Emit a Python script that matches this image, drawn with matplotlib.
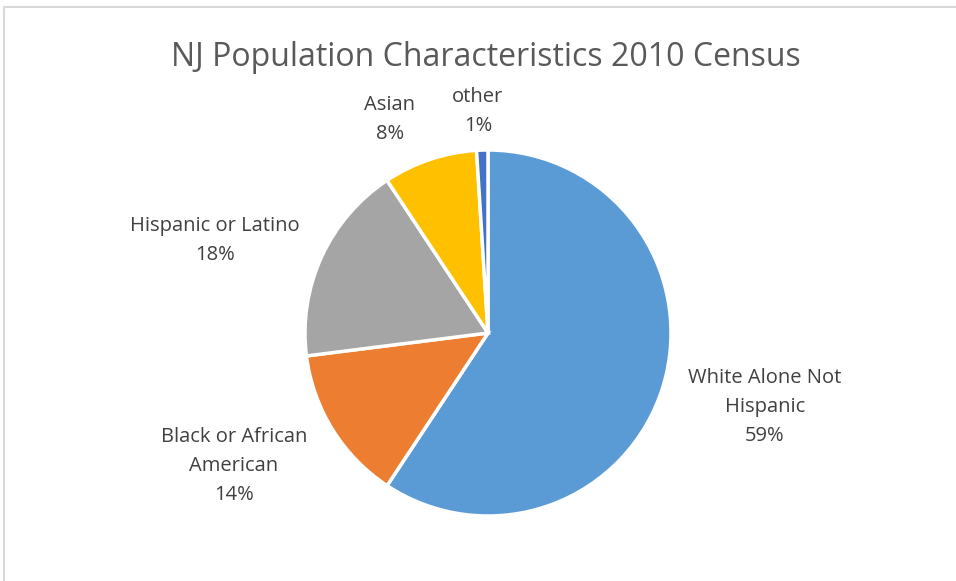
import matplotlib
matplotlib.use("Agg")
import matplotlib.pyplot as plt
from matplotlib.patches import Rectangle

# data (percent of population)
groups = ["White Alone Not\nHispanic", "Black or African\nAmerican", "Hispanic or Latino", "Asian", "other"]
shares = [59.3, 13.7, 17.7, 8.3, 1.0]
colors = ["#5B9BD5", "#ED7D31", "#A5A5A5", "#FFC000", "#4472C4"]
# label anchor points, in units of the pie radius
label_xy = [(1.514, -0.404), (-1.388, -0.727), (-1.492, 0.503), (-0.536, 1.164), (-0.055, 1.213)]

plt.rcParams['font.family'] = ['Open Sans', 'DejaVu Sans']

W, H = 956, 581
fig = plt.figure(figsize=(W / 100, H / 100), dpi=100)
fig.patches.append(Rectangle((4 / W, -0.1), 1.1, (H - 7) / H + 0.1, transform=fig.transFigure,
                             fill=False, edgecolor="#D9D9D9", linewidth=1.5))

cx, cy, r = 488, 333, 183
ax = fig.add_axes([(cx - r) / W, (H - cy - r) / H, 2 * r / W, 2 * r / H])
ax.pie(shares, colors=colors, startangle=90, counterclock=False, radius=1,
       wedgeprops=dict(edgecolor="white", linewidth=2.5))
ax.set_xlim(-1, 1)
ax.set_ylim(-1, 1)
ax.set_aspect("equal")
ax.axis("off")

for name, val, (x, y) in zip(groups, shares, label_xy):
    ax.text(x, y, f"{name}\n{round(val):.0f}%", ha="center", va="center",
            fontsize=14.5, color="#404040", linespacing=1.6, clip_on=False)

fig.text(486 / W, 1 - 57 / H, "NJ Population Characteristics 2010 Census",
         ha="center", va="center", fontsize=23, color="#595959")

fig.savefig("out.png", dpi=100)
